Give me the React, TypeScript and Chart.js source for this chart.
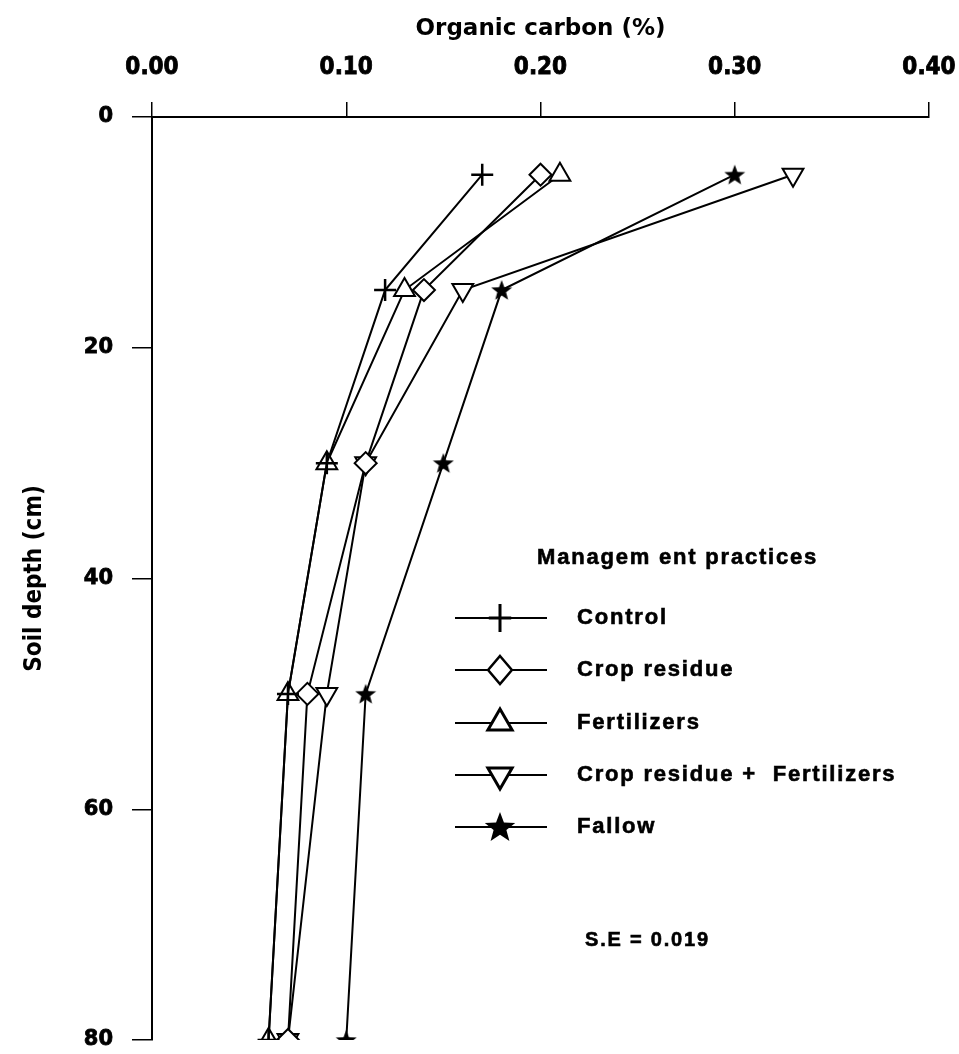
import React, { useEffect, useRef } from 'react';
import { Chart, registerables } from 'chart.js';

Chart.register(...registerables);

// ---- data ----
const depths = [5, 15, 30, 50, 80];
const control = [0.17, 0.12, 0.09, 0.07, 0.06];
const cropResidue = [0.2, 0.14, 0.11, 0.08, 0.07];
const fertilizers = [0.21, 0.13, 0.09, 0.07, 0.06];
const residuePlusFertilizers = [0.33, 0.16, 0.11, 0.09, 0.07];
const fallow = [0.3, 0.18, 0.15, 0.11, 0.1];

const seriesNames = ['Control', 'Crop residue', 'Fertilizers', 'Crop residue +  Fertilizers', 'Fallow'];
const xTickValues = [0, 0.1, 0.2, 0.3, 0.4];
const xTickLabels = ['0.00', '0.10', '0.20', '0.30', '0.40'];
const yTickValues = [0, 20, 40, 60, 80];
const yTickLabels = ['0', '20', '40', '60', '80'];
const xTitle = 'Organic carbon (%)';
const yTitle = 'Soil depth (cm)';
const legendTitle = 'Managem ent practices';
const seNote = 'S.E = 0.019';

const BOLD_FONT = '"DejaVu Sans", sans-serif';
const COND_FONT = '"DejaVu Sans Condensed", "DejaVu Sans", sans-serif';
const LEGEND_FONT = '"Liberation Sans", Arial, sans-serif';

function starPath(ctx: CanvasRenderingContext2D, cx: number, cy: number, outer: number, inner: number) {
  ctx.beginPath();
  for (let i = 0; i < 10; i++) {
    const r = i % 2 === 0 ? outer : inner;
    const a = -Math.PI / 2 + (i * Math.PI) / 5;
    const px = cx + Math.cos(a) * r;
    const py = cy + Math.sin(a) * r;
    if (i === 0) ctx.moveTo(px, py);
    else ctx.lineTo(px, py);
  }
  ctx.closePath();
}

function makeStar(size: number) {
  const c = document.createElement('canvas');
  c.width = size;
  c.height = size;
  const ctx = c.getContext('2d')!;
  starPath(ctx, size / 2, size / 2 + size * 0.04, size / 2, size * 0.21);
  ctx.fillStyle = '#000';
  ctx.fill();
  return c;
}

function drawMarker(ctx: CanvasRenderingContext2D, kind: number, x: number, y: number, r: number) {
  ctx.save();
  ctx.strokeStyle = '#000';
  ctx.fillStyle = '#fff';
  ctx.lineWidth = 2.5;
  ctx.beginPath();
  if (kind === 0) {
    ctx.moveTo(x - r * 0.8, y);
    ctx.lineTo(x + r * 0.8, y);
    ctx.moveTo(x, y - r);
    ctx.lineTo(x, y + r);
    ctx.lineWidth = 3;
    ctx.stroke();
  } else if (kind === 1) {
    ctx.moveTo(x, y - r);
    ctx.lineTo(x + r * 0.85, y);
    ctx.lineTo(x, y + r);
    ctx.lineTo(x - r * 0.85, y);
    ctx.closePath();
    ctx.fill();
    ctx.stroke();
  } else if (kind === 2 || kind === 3) {
    const s = kind === 2 ? 1 : -1;
    const h = r * 1.5;
    const w = r * Math.sqrt(3);
    ctx.moveTo(x, y - s * r);
    ctx.lineTo(x + w / 2, y - s * r + s * h);
    ctx.lineTo(x - w / 2, y - s * r + s * h);
    ctx.closePath();
    ctx.fill();
    ctx.lineWidth = 3;
    ctx.stroke();
  } else {
    starPath(ctx, x, y + 1, r, r * 0.42);
    ctx.fillStyle = '#000';
    ctx.fill();
  }
  ctx.restore();
}

const legendPlugin = {
  id: 'practiceLegend',
  afterDraw(chart: any) {
    const ctx: CanvasRenderingContext2D = chart.ctx;
    ctx.save();
    ctx.fillStyle = '#000';
    ctx.strokeStyle = '#000';
    ctx.textBaseline = 'middle';
    ctx.textAlign = 'left';
    (ctx as any).letterSpacing = '1.8px';
    ctx.font = `bold 22px ${LEGEND_FONT}`;
    ctx.lineWidth = 0.6;
    ctx.fillText(legendTitle, 537, 558);
    ctx.strokeText(legendTitle, 537, 558);
    const rowY = [618, 670, 723, 775, 827];
    seriesNames.forEach((name, i) => {
      const y = rowY[i];
      ctx.save();
      ctx.lineWidth = 2;
      ctx.beginPath();
      ctx.moveTo(455, y);
      ctx.lineTo(547, y);
      ctx.stroke();
      ctx.restore();
      drawMarker(ctx, i, 500, y, i === 4 ? 16 : 14);
      ctx.fillText(name, 577, y);
      ctx.strokeText(name, 577, y);
    });
    ctx.font = `bold 20px ${LEGEND_FONT}`;
    ctx.fillText(seNote, 585, 940);
    ctx.strokeText(seNote, 585, 940);
    ctx.restore();
  },
};

const zeroPad = (s: any) => {
  s.paddingLeft = 0;
  s.paddingRight = 0;
  s.paddingTop = 0;
  s.paddingBottom = 0;
};

export default function App() {
  const ref = useRef<HTMLCanvasElement | null>(null);

  useEffect(() => {
    document.body.style.margin = '0';
    const canvas = ref.current;
    if (!canvas) return;
    const star = makeStar(22);
    const mk = (vals: number[]) => vals.map((v, i) => ({ x: v, y: depths[i] }));
    const base = {
      borderColor: '#000',
      borderWidth: 2,
      pointBorderColor: '#000',
      pointBackgroundColor: '#fff',
      pointBorderWidth: 2,
      tension: 0,
      fill: false,
    };
    const chart = new Chart(canvas, {
      type: 'line',
      data: {
        datasets: [
          { ...base, label: seriesNames[0], data: mk(control), pointStyle: 'cross', pointRadius: 11, pointBorderWidth: 2.5 },
          { ...base, label: seriesNames[1], data: mk(cropResidue), pointStyle: 'rectRot', pointRadius: 11 },
          { ...base, label: seriesNames[2], data: mk(fertilizers), pointStyle: 'triangle', pointRadius: 12 },
          { ...base, label: seriesNames[3], data: mk(residuePlusFertilizers), pointStyle: 'triangle', pointRotation: 180, pointRadius: 12 },
          { ...base, label: seriesNames[4], data: mk(fallow), pointStyle: star as any, pointRadius: 11 },
        ],
      },
      options: {
        responsive: false,
        animation: false,
        events: [],
        layout: { padding: { left: 0, top: 0, right: 30, bottom: 9 } },
        plugins: { legend: { display: false }, tooltip: { enabled: false } },
        scales: {
          x: {
            type: 'linear',
            position: 'top',
            min: 0,
            max: 0.4,
            afterFit: (s: any) => { s.height = 117; zeroPad(s); },
            afterBuildTicks: (s: any) => { s.ticks = xTickValues.map((v) => ({ value: v })); },
            ticks: {
              callback: (v: any) => xTickLabels[xTickValues.findIndex((t) => Math.abs(t - v) < 1e-9)] ?? '',
              color: '#000',
              font: { family: COND_FONT, size: 24, weight: 'bold' },
              textStrokeColor: '#000',
              textStrokeWidth: 0.8,
              padding: 20,
              maxRotation: 0,
            },
            grid: { display: true, drawOnChartArea: false, drawTicks: true, tickLength: 15, color: '#000', lineWidth: 1.5 },
            border: { display: true, color: '#000', width: 2 },
            title: {
              display: true,
              text: xTitle,
              color: '#000',
              font: { family: BOLD_FONT, size: 23, weight: 'bold' },
              padding: { top: 15, bottom: 0 },
            },
          },
          y: {
            type: 'linear',
            reverse: true,
            min: 0,
            max: 80,
            afterFit: (s: any) => { s.width = 152; zeroPad(s); },
            afterBuildTicks: (s: any) => { s.ticks = yTickValues.map((v) => ({ value: v })); },
            ticks: {
              callback: (v: any) => yTickLabels[yTickValues.indexOf(v)] ?? '',
              color: '#000',
              font: { family: BOLD_FONT, size: 21, weight: 'bold' },
              textStrokeColor: '#000',
              textStrokeWidth: 0.8,
              padding: 19,
            },
            grid: { display: true, drawOnChartArea: false, drawTicks: true, tickLength: 20, color: '#000', lineWidth: 1.5 },
            border: { display: true, color: '#000', width: 2 },
            title: {
              display: true,
              text: yTitle,
              color: '#000',
              font: { family: COND_FONT, size: 24, weight: 'bold' },
              padding: { top: 20, bottom: 0 },
            },
          },
        },
      },
      plugins: [legendPlugin],
    });
    return () => chart.destroy();
  }, []);

  return <canvas ref={ref} width={959} height={1054} style={{ display: 'block', width: 959, height: 1054 }} />;
}
